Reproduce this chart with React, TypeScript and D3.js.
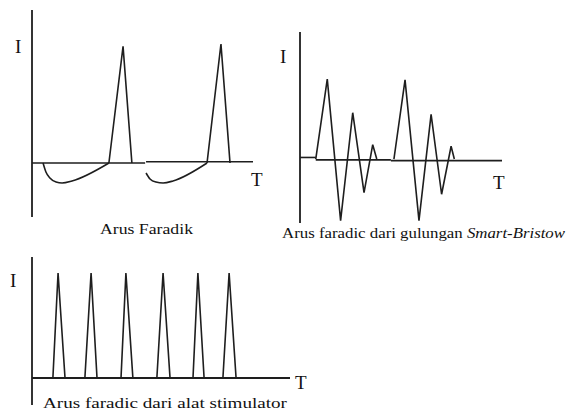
import * as d3 from "d3";

// Panel 1: Arus Faradik (time 0..10, current: peak = 1)
const faradikDips: [number, number][][] = [
  [[0.5, 0], [0.63, -0.076], [0.81, -0.126], [1.09, -0.16], [1.36, -0.168], [1.81, -0.151], [3.48, 0]],
  [[5.16, -0.084], [5.34, -0.134], [5.61, -0.16], [5.93, -0.168], [6.38, -0.151], [7.92, 0]],
];
const faradikSpikes: [number, number][][] = [
  [[3.48, 0], [4.12, 0.98], [4.52, 0]],
  [[7.92, 0], [8.55, 1.0], [8.96, 0]],
];
const faradikBaseline: [number, number][][] = [
  [[0, 0], [5.12, 0]],
  [[5.16, 0.01], [10, 0.01]],
];

// Panel 2: Smart-Bristow coil bursts
const bristowBursts: [number, number][][] = [
  [[0.78, 0], [1.35, 1.0], [2.01, -0.77], [2.61, 0.58], [3.17, -0.42], [3.6, 0.18], [3.8, 0]],
  [[4.65, 0], [5.2, 0.99], [5.89, -0.77], [6.49, 0.56], [7.01, -0.44], [7.48, 0.16], [7.64, 0]],
];
const bristowBaseline: [number, number][][] = [
  [[0, 0.02], [0.78, 0.02]],
  [[0.78, -0.01], [4.5, -0.01]],
  [[4.5, -0.02], [10, -0.02]],
];

// Panel 3: stimulator pulses (start, peak, end)
const stimPulses: [number, number, number][] = [
  [0.81, 1.01, 1.28],
  [2.05, 2.29, 2.52],
  [3.45, 3.64, 3.91],
  [4.84, 5.08, 5.35],
  [6.24, 6.43, 6.67],
  [7.4, 7.64, 7.91],
];
const stimPeak = 1;

const captions = [
  "Arus Faradik",
  "Arus faradic dari gulungan ",
  "Smart-Bristow",
  "Arus faradic dari alat stimulator",
];

const stroke = "#1e1e1e";
const font = "Liberation Serif, DejaVu Serif, serif";

export default function App() {
  // panel 1 scales
  const x1 = d3.scaleLinear().domain([0, 10]).range([32, 253]);
  const y1 = d3.scaleLinear().domain([-0.454, 1.286]).range([217, 10]);
  // panel 2 scales
  const x2 = d3.scaleLinear().domain([0, 10]).range([300, 502]);
  const y2 = d3.scaleLinear().domain([-0.8, 1.59]).range([223, 32]);
  // panel 3 scales
  const x3 = d3.scaleLinear().domain([0, 10]).range([32, 290]);
  const y3 = d3.scaleLinear().domain([-0.257, 1.152]).range([405, 257]);

  const line1 = d3.line<[number, number]>().x((d) => x1(d[0])).y((d) => y1(d[1]));
  const curve1 = d3
    .line<[number, number]>()
    .x((d) => x1(d[0]))
    .y((d) => y1(d[1]))
    .curve(d3.curveMonotoneX);
  const line2 = d3.line<[number, number]>().x((d) => x2(d[0])).y((d) => y2(d[1]));
  const line3 = d3.line<[number, number]>().x((d) => x3(d[0])).y((d) => y3(d[1]));

  const common = { fill: "none", stroke, strokeWidth: 1.6, strokeLinejoin: "miter" as const };
  const tf = { fontFamily: font, fill: "#111" };

  return (
    <svg
      width={574}
      height={412}
      style={{ position: "absolute", left: 0, top: 0, background: "#fff" }}
    >
      {/* Panel 1 */}
      <line x1={x1(0)} x2={x1(0)} y1={y1(1.286)} y2={y1(-0.454)} stroke={stroke} strokeWidth={1.8} />
      {faradikBaseline.map((s, i) => (
        <path key={"b1" + i} d={line1(s) || ""} {...common} />
      ))}
      {faradikDips.map((s, i) => (
        <path key={"d1" + i} d={curve1(s) || ""} {...common} />
      ))}
      {faradikSpikes.map((s, i) => (
        <path key={"s1" + i} d={line1(s) || ""} {...common} />
      ))}
      <text x={15} y={53} fontSize={19} style={tf}>I</text>
      <text x={251} y={186} fontSize={19} style={tf}>T</text>
      <text x={100} y={234} fontSize={15} textLength={93} lengthAdjust="spacingAndGlyphs" style={tf}>
        {captions[0]}
      </text>

      {/* Panel 2 */}
      <line x1={x2(0)} x2={x2(0)} y1={y2(1.59)} y2={y2(-0.8)} stroke={stroke} strokeWidth={1.8} />
      {bristowBaseline.map((s, i) => (
        <path key={"b2" + i} d={line2(s) || ""} {...common} />
      ))}
      {bristowBursts.map((s, i) => (
        <path key={"w2" + i} d={line2(s) || ""} {...common} />
      ))}
      <text x={280} y={63} fontSize={19} style={tf}>I</text>
      <text x={493} y={189} fontSize={19} style={tf}>T</text>
      <text x={282} y={238} fontSize={15} textLength={283} lengthAdjust="spacingAndGlyphs" style={tf}>
        {captions[1]}
        <tspan fontStyle="italic">{captions[2]}</tspan>
      </text>

      {/* Panel 3 */}
      <line x1={x3(0)} x2={x3(0)} y1={y3(1.152)} y2={y3(-0.257)} stroke={stroke} strokeWidth={1.8} />
      <path d={line3([[0, 0], [10, 0]]) || ""} {...common} strokeWidth={1.8} />
      {stimPulses.map((p, i) => (
        <path
          key={"p3" + i}
          d={line3([[p[0], 0], [p[1], stimPeak], [p[2], 0]]) || ""}
          {...common}
        />
      ))}
      <text x={10} y={287} fontSize={19} style={tf}>I</text>
      <text x={295} y={389} fontSize={19} style={tf}>T</text>
      <text x={43} y={408} fontSize={15} textLength={244} lengthAdjust="spacingAndGlyphs" style={tf}>
        {captions[3]}
      </text>
    </svg>
  );
}
